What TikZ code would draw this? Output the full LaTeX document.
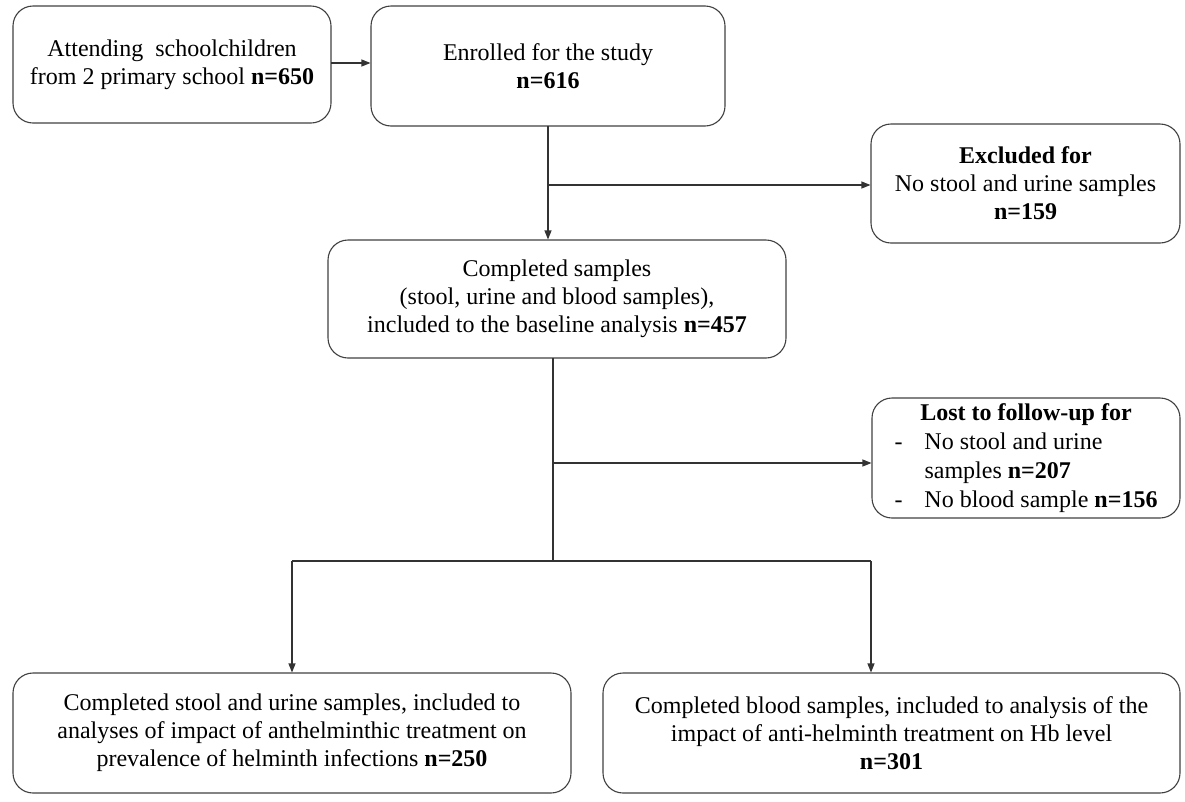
\documentclass[tikz,border=0pt]{standalone}
\usepackage{fontspec}
\setmainfont{Liberation Serif}
\usetikzlibrary{arrows.meta}
\begin{document}
\begin{tikzpicture}[x=1pt,y=-1pt,
  box/.style={draw=black!75, line width=1.1pt, rounded corners=20pt, align=center,
    inner sep=0pt, font=\fontsize{24}{28}\selectfont},
  conn/.style={draw=black!80, line width=1.1pt},
  arr/.style={conn, -{Triangle[length=9pt,width=7pt]}}]
\useasboundingbox (0,0) rectangle (1185,801);
\node[box, minimum width=318pt, minimum height=117pt] (A) at (172,64.5)
  {Attending\ \ schoolchildren\\ from 2 primary school \textbf{n=650}};
\node[box, minimum width=354pt, minimum height=120pt] (B) at (548,66)
  {Enrolled for the study\\ \textbf{n=616}};
\node[box, minimum width=309pt, minimum height=119pt] (C) at (1025.5,183.5)
  {\textbf{Excluded for}\\ No stool and urine samples\\ \textbf{n=159}};
\node[box, minimum width=458pt, minimum height=118pt] (D) at (557,299)
  {Completed samples\\ (stool, urine and blood samples),\\ included to the baseline analysis \textbf{n=457}};
\node[box, minimum width=308pt, minimum height=120pt] (E) at (1026,458)
  {\begin{tabular}{@{}l@{\hspace{22pt}}l@{}}
   \multicolumn{2}{c}{\textbf{Lost to follow-up for}}\\[1pt]
   - & No stool and urine\\[1pt]
     & samples \textbf{n=207}\\[1pt]
   - & No blood sample \textbf{n=156}
   \end{tabular}};
\node[box, minimum width=558pt, minimum height=120pt] (F) at (292,733)
  {Completed stool and urine samples, included to\\ analyses of impact of anthelminthic treatment on\\ prevalence of helminth infections \textbf{n=250}};
\node[box, minimum width=577pt, minimum height=120pt] (G) at (891.5,733)
  {Completed blood samples, included to analysis of the\\ impact of anti-helminth treatment on Hb level\\ \textbf{n=301}};
% connectors
\coordinate (ab) at (331,63);
\draw[arr] (ab) -- (ab -| B.west);
\coordinate (b0) at (548,126);
\coordinate (b1) at (548,185);
\draw[arr] (b0) -- (b0 |- D.north);
\draw[arr] (b1) -- (b1 -| C.west);
\coordinate (d0) at (553,358);
\coordinate (d1) at (553,463);
\coordinate (d2) at (553,561);
\draw[conn] (d0) -- (d2);
\draw[arr] (d1) -- (d1 -| E.west);
\coordinate (fl) at (292,561);
\coordinate (gr) at (871,561);
\draw[conn] (fl) -- (gr);
\draw[arr] (fl) -- (fl |- F.north);
\draw[arr] (gr) -- (gr |- G.north);
\end{tikzpicture}
\end{document}
